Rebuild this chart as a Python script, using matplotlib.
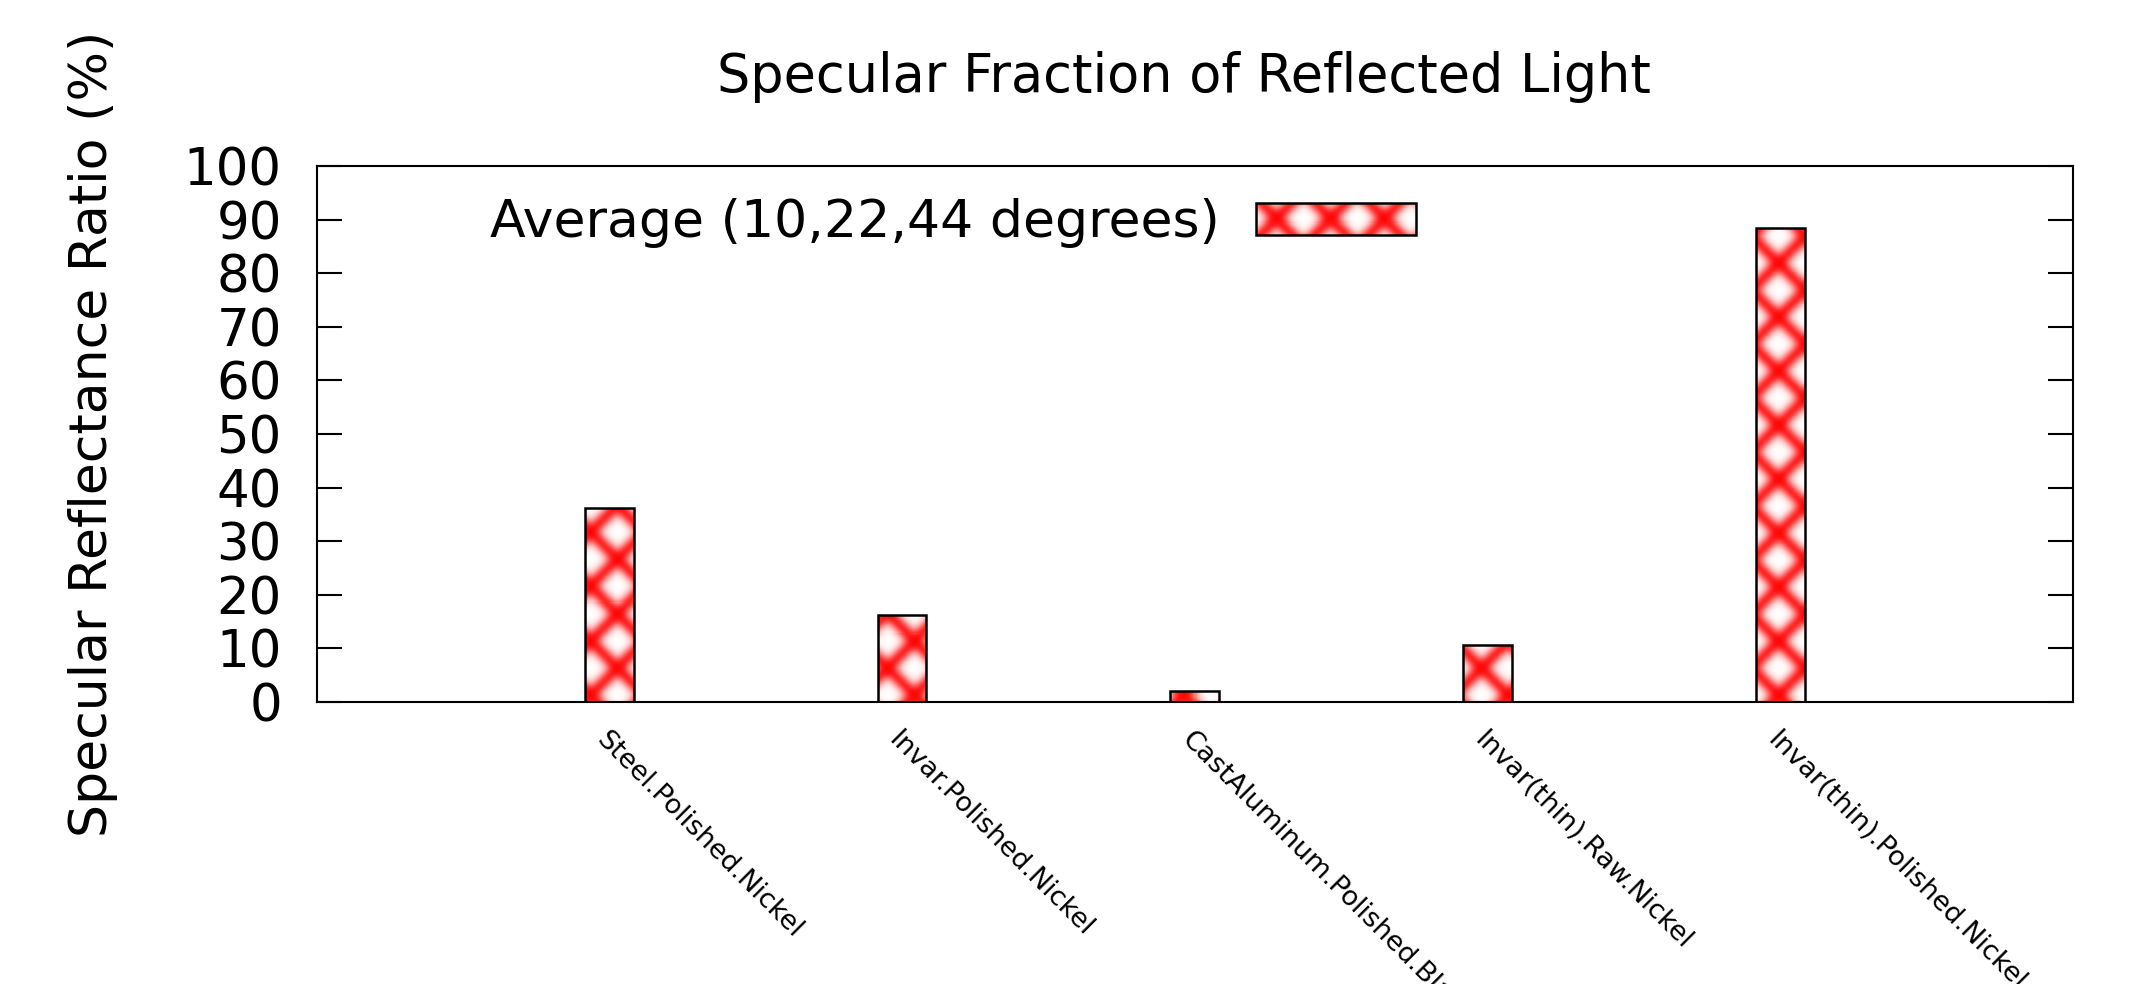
import numpy as np
import matplotlib
matplotlib.use("Agg")
import matplotlib.pyplot as plt
from matplotlib.patches import Patch, Rectangle

# ---- data -------------------------------------------------------------
samples = [
    "Steel.Polished.Nickel",
    "Invar.Polished.Nickel",
    "CastAluminum.Polished.BlackNickel",
    "Invar(thin).Raw.Nickel",
    "Invar(thin).Polished.Nickel",
]
specular_ratio = [36.2, 16.3, 2.1, 10.6, 88.4]
y_ticks = [0, 10, 20, 30, 40, 50, 60, 70, 80, 90, 100]
series_label = "Average (10,22,44 degrees)"
title_text = "Specular Fraction of Reflected Light"
ylabel_text = "Specular Reflectance Ratio (%)"

# ---- figure / axes layout (pixels) -------------------------------------
FIG_W, FIG_H, DPI = 2130, 984, 100
AX_L, AX_T, AX_R, AX_B = 316.5, 166.0, 2073.0, 702.0

fig = plt.figure(figsize=(FIG_W / DPI, FIG_H / DPI), dpi=DPI)
ax = fig.add_axes([AX_L / FIG_W, 1 - AX_B / FIG_H,
                   (AX_R - AX_L) / FIG_W, (AX_B - AX_T) / FIG_H])

XLIM = (0, len(samples) + 1)
YLIM = (0, 100)
positions = np.arange(1, len(samples) + 1)

bars = ax.bar(positions, specular_ratio, width=1 / 6, facecolor="none",
              edgecolor="black", linewidth=1.8, zorder=3)


# ---- soft red cross-hatch texture (pixel-aligned with the axes) ---------
def crosshatch_texture(width_px, height_px, left_px, top_px,
                       phase_sum=43.0, phase_diff=3.0,
                       period=54.0, sigma=7.5, strength=0.85):
    xs = left_px + np.arange(width_px) + 0.5
    ys = top_px + np.arange(height_px) + 0.5
    xx, yy = np.meshgrid(xs, ys)

    def weight(u, phase):
        d = (np.mod(u - phase + period / 2, period) - period / 2) / np.sqrt(2)
        return strength * np.exp(-(d / sigma) ** 2)

    w1 = weight(xx + yy, phase_sum)
    w2 = weight(xx - yy, phase_diff)
    a = 1 - (1 - w1) * (1 - w2)
    return np.dstack([np.ones_like(a), 1 - a, 1 - a])


TEX_W, TEX_H = int(round(AX_R - AX_L)), int(round(AX_B - AX_T))
tex = crosshatch_texture(TEX_W, TEX_H, AX_L, AX_T)
extent = (XLIM[0], XLIM[1], YLIM[0], YLIM[1])

for bar in bars:
    im = ax.imshow(tex, extent=extent, origin="upper", aspect="auto",
                   interpolation="nearest", zorder=2)
    im.set_clip_path(bar)

ax.set_xlim(*XLIM)
ax.set_ylim(*YLIM)

# ---- axes styling -----------------------------------------------------
for sp in ax.spines.values():
    sp.set_linewidth(1.5)
    sp.set_color("black")

ax.set_yticks(y_ticks)
ax.tick_params(axis="y", direction="in", length=18, width=1.5,
               labelsize=37, pad=25, left=True, right=True)
ax.set_xticks(positions)
ax.set_xticklabels(samples, rotation=-45, ha="left", va="top",
                   rotation_mode="anchor", fontsize=19.5)
ax.tick_params(axis="x", length=0, pad=18)

ax.set_ylabel(ylabel_text, fontsize=37.5)
ax.yaxis.set_label_coords((118 - AX_L) / (AX_R - AX_L), 0.5)
ax.set_title(title_text, fontsize=37.8, pad=53,
             x=(1184 - AX_L) / (AX_R - AX_L))

# ---- key ---------------------------------------------------------------
fs_px = 37.5 * DPI / 72
leg = ax.legend(
    handles=[Patch(facecolor="none", edgecolor="black", linewidth=1.8,
                   label=series_label)],
    loc="center right",
    bbox_to_anchor=((1416 - AX_L) / (AX_R - AX_L), (AX_B - 223.5) / (AX_B - AX_T)),
    markerfirst=False, frameon=False, fontsize=37.5,
    handlelength=160 / fs_px, handleheight=30 / fs_px,
    handletextpad=36 / fs_px, borderpad=0, borderaxespad=0,
)

fig.canvas.draw()
hb = leg.legend_handles[0].get_window_extent()
inv = ax.transData.inverted()
(kx0, ky0), (kx1, ky1) = inv.transform([[hb.x0, hb.y0], [hb.x1, hb.y1]])
key_clip = Rectangle((kx0, ky0), kx1 - kx0, ky1 - ky0, transform=ax.transData)

# swatch pattern: crossings run along the swatch's horizontal midline
mid_y = FIG_H - (hb.y0 + hb.y1) / 2
cross_x = hb.x0 + 20
key_tex = crosshatch_texture(TEX_W, TEX_H, AX_L, AX_T,
                             phase_sum=(cross_x + mid_y) % 54.0,
                             phase_diff=(cross_x - mid_y) % 54.0)
kim = ax.imshow(key_tex, extent=extent, origin="upper", aspect="auto",
                interpolation="nearest", zorder=4.9)
kim.set_clip_path(key_clip)
ax.set_xlim(*XLIM)
ax.set_ylim(*YLIM)

fig.savefig("out.png", dpi=DPI)
